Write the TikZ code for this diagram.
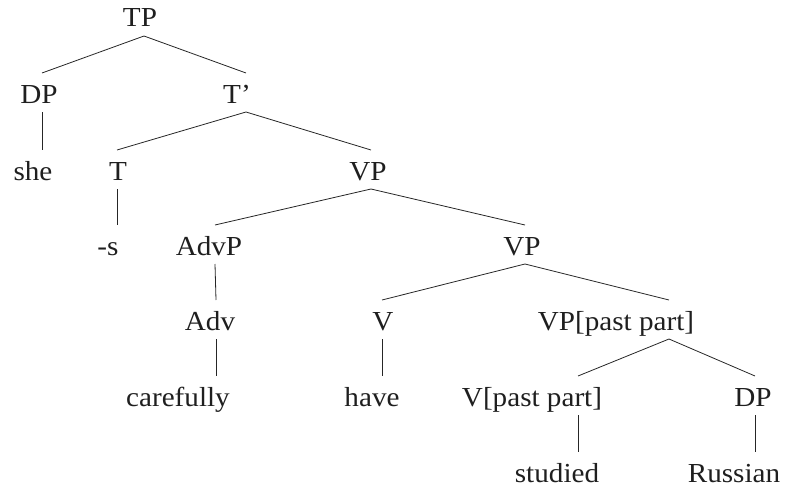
\documentclass[tikz,border=0pt]{standalone}
\usepackage{fontspec}
\setmainfont{Liberation Serif}[FakeStretch=1.06]
\begin{document}
\begin{tikzpicture}[x=1pt,y=1pt,
  lab/.style={anchor=base,inner sep=0pt,font=\fontsize{27.5}{30}\selectfont,text=black!88},
  br/.style={line width=0.8pt,draw=black!85}]
\useasboundingbox (0,0) rectangle (786,-487);
% name, attach x, text x, baseline, text
\newcommand\tnode[5]{%
  \coordinate (#1) at (#2,-#4);
  \node[lab] (#1-t) at (#3,-#4) {#5};}
\newcommand\tedge[2]{\draw[br] ([yshift=-9pt]#1) -- ([yshift=30pt]#2);}
\tnode{TP}{144}{140}{27}{TP}
\tnode{DP}{42}{39}{103}{DP}
\tnode{Tb}{246}{237}{103}{T'}
\tnode{she}{42}{33}{180}{she}
\tnode{T}{117}{118}{180}{T}
\tnode{VPa}{371}{368}{180}{VP}
\tnode{s}{117}{108}{255}{-s}
\tnode{AdvP}{215}{209}{255}{AdvP}
\tnode{VPb}{525}{522}{255}{VP}
\tnode{Adv}{216}{210}{330}{Adv}
\tnode{V}{382}{383}{330}{V}
\tnode{VPpp}{669}{616}{330}{VP[past part]}
\tnode{carefully}{216}{178}{406}{carefully}
\tnode{have}{382}{372}{406}{have}
\tnode{Vpp}{578}{532}{406}{V[past part]}
\tnode{DPb}{755}{753}{406}{DP}
\tnode{studied}{578}{557}{482}{studied}
\tnode{Russian}{755}{734}{482}{Russian}
\tedge{TP}{DP}
\tedge{TP}{Tb}
\tedge{DP}{she}
\tedge{Tb}{T}
\tedge{Tb}{VPa}
\tedge{T}{s}
\tedge{VPa}{AdvP}
\tedge{VPa}{VPb}
\tedge{AdvP}{Adv}
\tedge{VPb}{V}
\tedge{VPb}{VPpp}
\tedge{Adv}{carefully}
\tedge{V}{have}
\tedge{VPpp}{Vpp}
\tedge{VPpp}{DPb}
\tedge{Vpp}{studied}
\tedge{DPb}{Russian}
\end{tikzpicture}
\end{document}
